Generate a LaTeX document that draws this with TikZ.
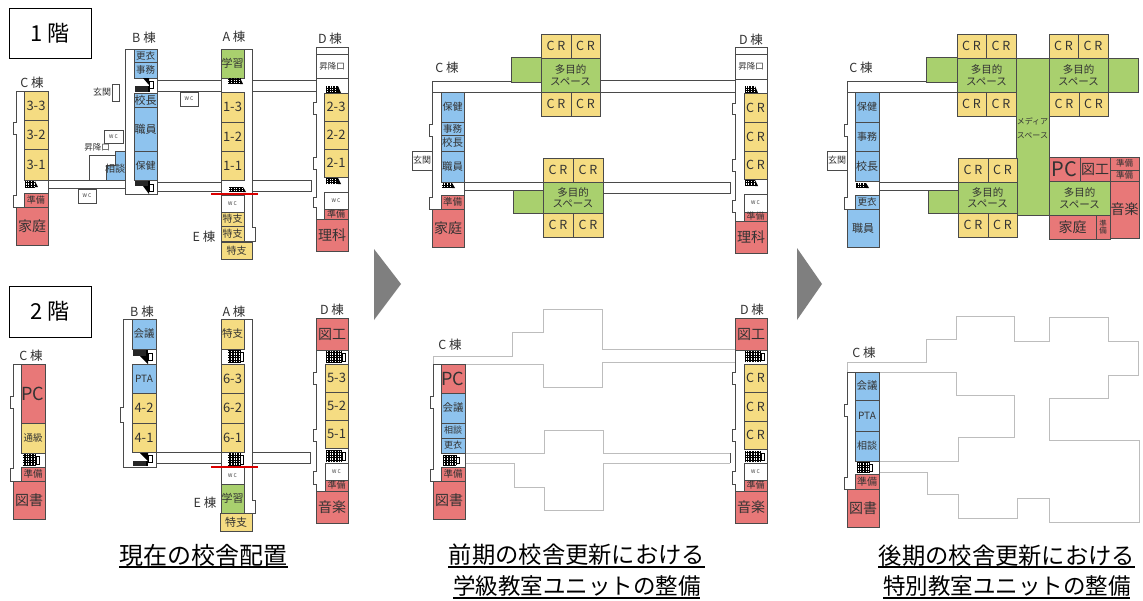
\documentclass[tikz,border=0pt]{standalone}
\usepackage{fontspec}
\setmainfont{Noto Sans CJK JP}
\definecolor{yel}{HTML}{F5DC82}
\definecolor{blu}{HTML}{8EC3EE}
\definecolor{grn}{HTML}{A9D06E}
\definecolor{red1}{HTML}{E87878}
\definecolor{wallc}{HTML}{4A4A4A}
\definecolor{txtc}{HTML}{333333}
\definecolor{ghost}{HTML}{BDBDBD}
\definecolor{arrowc}{HTML}{7F7F7F}
\tikzset{
 wall/.style={draw=wallc,line width=0.9pt,fill=white,line join=miter},
 roomb/.style={draw=wallc,line width=0.9pt},
 ghostl/.style={draw=ghost,line width=0.8pt},
 cutline/.style={draw=red!85!black,line width=2pt},
 uline/.style={draw=black,line width=1.2pt},
 captext/.style={font=\fontsize{22.5}{24}\selectfont,text=black,inner sep=0pt},
 captextA/.style={font=\fontsize{23.3}{24}\selectfont,text=black,inner sep=0pt},
 captextB/.style={font=\fontsize{24}{24}\selectfont,text=black,inner sep=0pt},
 bld/.style={font=\fontsize{12.5}{14}\selectfont,text=txtc,inner sep=0pt},
 bigarrow/.style={fill=arrowc,draw=none},
}
\newcommand\Rm[7]{\path[roomb,fill=#5] (#1,#2) rectangle (#3,#4) node[midway,inner sep=0pt,text=txtc,font=\fontsize{#6}{#6}\selectfont,align=center] {#7};}
\newcommand\Sh[4]{\path[wall] (#1,#2) rectangle (#3,#4);}
\newcommand\Bld[3]{\node[bld] at (#1,#2) {#3};}
\newcommand\Bmp[3]{\path[wall] (#1,#2) -- ({#1-2.5},#2) -- ({#1-2.5},#3) -- (#1,#3); \fill[white] ({#1-0.6},{#2+0.5}) rectangle ({#1+0.6},{#3-0.5});}
% stair: grid block with landing triangle
\newcommand\StT[4]{\draw[black,line width=0.5pt,xstep=1.6pt,ystep=2.2pt] (#1,#2) grid (#3,#4); \fill[black] (#3,#2) -- ({#3+3},#4) -- (#3,#4) -- cycle;}
\newcommand\StG[4]{\draw[black,line width=0.5pt,xstep=1.6pt,ystep=2.5pt] (#1,#2) grid (#3,#4); \draw[black,line width=0.5pt] (#3,{#2+2}) rectangle ({#3+3.5},{#4-2});}
\newcommand\StB[4]{\fill[black!85] (#1,#2) rectangle (#3,#4); \fill[black] (#3,#2) -- ({#3+2},#2) -- ({#3+2},#4) -- (#3,#4) -- cycle;}
\begin{document}
\begin{tikzpicture}[x=1pt,y=-1pt]
\useasboundingbox (0,0) rectangle (1143,600);
\fill[white] (0,0) rectangle (1143,600);
% ===== floor boxes
\node[draw=black,line width=0.9pt,minimum width=82pt,minimum height=50pt,inner sep=0pt,font=\fontsize{22}{24}\selectfont] (f1) at (50,33) {\raisebox{-2.5pt}{1 階}};
\node[draw=black,line width=0.9pt,minimum width=82pt,minimum height=51pt,inner sep=0pt,font=\fontsize{22}{24}\selectfont] (f2) at (50,311.5) {\raisebox{-3pt}{2 階}};
% ===== arrows
\fill[bigarrow] (374,249) -- (401,284) -- (374,320) -- cycle;
\fill[bigarrow] (797,248) -- (822,284) -- (797,320) -- cycle;

% ===== PANEL 1 / FLOOR 1
\Sh{157}{80}{221}{91}\Sh{252}{80}{316}{91}
\Sh{48}{180}{125}{188}\Sh{157}{182}{221}{191}\Sh{252}{180}{311}{191}
% C
\Sh{16}{91}{48}{207}\Bmp{16}{122}{134}\Bmp{16}{195}{207}
\Rm{24}{91}{48}{120}{yel}{13}{3-3}\Rm{24}{120}{48}{149}{yel}{13}{3-2}\Rm{24}{149}{48}{180}{yel}{13}{3-1}
\StT{25}{181}{35}{187}
\Rm{24}{193}{48}{207}{red1}{9}{準備}\Rm{16}{207}{48}{245}{red1}{14}{家庭}
% B
\Sh{125}{49}{157}{194}
\Rm{134}{49}{157}{62}{blu}{9.5}{更衣}\Rm{134}{62}{157}{78}{blu}{9.5}{事務}
\StB{135}{86}{148}{92}\fill[black] (143,78)--(149,78)--(149,85)--cycle;\draw[black,line width=.5pt] (149,81) rectangle (153,88);
\Rm{134}{93}{157}{107}{blu}{11}{校長}\Rm{134}{107}{157}{151}{blu}{11}{職員}\Rm{134}{151}{157}{180}{blu}{10}{保健}
\StB{135}{181}{148}{186}\fill[black] (143,186)--(149,186)--(149,194)--cycle;\draw[black,line width=.5pt] (149,184) rectangle (153,191);
% entrance and annex
\Sh{112}{84}{119}{101}\node[inner sep=0pt,font=\fontsize{9}{9}\selectfont,text=txtc] at (102,92) {玄関};
\Sh{89}{155}{125}{180}
\path[roomb,fill=blu] (106,180)--(106,165)--(115,165)--(115,151)--(125,151)--(125,180)--cycle;
\node[inner sep=0pt,font=\fontsize{10}{10}\selectfont,text=txtc] at (115,169) {相談};
\node[inner sep=0pt,font=\fontsize{8.5}{9}\selectfont,text=txtc] at (97,147) {昇降口};
\Rm{104}{130}{123}{143}{white}{5}{W C}
\Rm{78}{189}{96}{203}{white}{5}{W C}
\Rm{180}{92}{198}{106}{white}{5}{W C}
% A
\Sh{221}{49}{252}{241}
\path[wall] (252,227)--(255,227)--(255,241)--(252,241);
\Rm{221}{49}{244}{78}{grn}{11}{学習}
\StT{228}{78}{240}{84}
\Rm{221}{92}{244}{122}{yel}{13}{1-3}\Rm{221}{122}{244}{151}{yel}{13}{1-2}\Rm{221}{151}{244}{180}{yel}{13}{1-1}
\StT{229}{187}{243}{192}
\Rm{221}{195}{244}{212}{white}{5}{W C}
\Rm{221}{212}{244}{226}{yel}{10}{特支}\Rm{221}{226}{244}{241}{yel}{10}{特支}\Rm{221}{242}{252}{259}{yel}{10}{特支}
\draw[cutline] (211,194) -- (258,194);
% D
\Sh{316}{47}{348}{219}\Bmp{316}{102}{114}\Bmp{316}{157}{169}\Bmp{316}{197}{207}
\Rm{316}{54}{348}{78}{white}{8.5}{昇降口}
\StT{326}{86}{338}{93}
\Rm{324}{93}{348}{121}{yel}{13}{2-3}\Rm{324}{121}{348}{149}{yel}{13}{2-2}\Rm{324}{149}{348}{177}{yel}{13}{2-1}
\StT{326}{178}{338}{184}
\Rm{324}{192}{348}{209}{white}{5}{W C}
\Rm{324}{209}{348}{219}{red1}{9}{準備}\Rm{316}{219}{348}{251}{red1}{14}{理科}
\draw[wallc,line width=.9pt] (311,180)--(311,191);
\Bld{32}{83}{C 棟}\Bld{144}{38}{B 棟}\Bld{234}{37}{A 棟}\Bld{330}{39}{D 棟}\Bld{204}{237}{E 棟}

% ===== PANEL 1 / FLOOR 2
\Sh{156}{452}{221}{463}\Sh{252}{452}{310}{463}
% C
\Sh{13}{364}{45}{481}\Bmp{13}{396}{408}\Bmp{13}{468}{481}
\Rm{21}{364}{45}{423}{red1}{18}{PC}\Rm{21}{423}{45}{453}{yel}{9.5}{通級}
\StG{23}{454}{36}{466}
\Rm{21}{467}{45}{481}{red1}{9.5}{準備}\Rm{13}{481}{45}{519}{red1}{14}{図書}
% B
\Sh{123}{319}{156}{467}\Bmp{123}{407}{422}
\Rm{132}{319}{156}{349}{blu}{10.5}{会議}
\StB{133}{350}{146}{356}\fill[black] (140,356)--(148,356)--(148,364)--cycle;\draw[black,line width=.5pt] (148,353) rectangle (152,360);
\Rm{132}{364}{156}{393}{blu}{10}{PTA}\Rm{132}{393}{156}{423}{yel}{13}{4-2}\Rm{132}{423}{156}{452}{yel}{13}{4-1}
\StB{133}{461}{146}{466}\fill[black] (140,453)--(148,453)--(148,461)--cycle;\draw[black,line width=.5pt] (148,455) rectangle (152,462);
% A
\Sh{221}{319}{252}{513}\path[wall] (252,500)--(255,500)--(255,513)--(252,513);
\Rm{221}{319}{244}{349}{yel}{10.5}{特支}
\StG{228}{350}{240}{363}
\Rm{221}{364}{244}{393}{yel}{13}{6-3}\Rm{221}{393}{244}{423}{yel}{13}{6-2}\Rm{221}{423}{244}{452}{yel}{13}{6-1}
\StG{228}{453}{240}{466}
\Rm{221}{467}{244}{484}{white}{5}{W C}
\Rm{221}{484}{244}{513}{grn}{11}{学習}\Rm{220}{513}{252}{531}{yel}{11}{特支}
\draw[cutline] (211,467) -- (258,467);
% D
\Sh{316}{350}{348}{491}\Bmp{316}{372}{384}\Bmp{316}{429}{441}\Bmp{316}{471}{484}
\Rm{316}{318}{348}{350}{red1}{14}{図工}
\StG{326}{351}{342}{363}
\Rm{325}{364}{348}{392}{yel}{13}{5-3}\Rm{325}{392}{348}{420}{yel}{13}{5-2}\Rm{325}{420}{348}{448}{yel}{13}{5-1}
\StG{326}{450}{342}{462}
\Rm{325}{463}{348}{480}{white}{5}{W C}
\Rm{325}{480}{348}{491}{red1}{9}{準備}\Rm{316}{491}{348}{523}{red1}{14}{音楽}
\draw[wallc,line width=.9pt] (310,452)--(310,463);
\Bld{31}{356}{C 棟}\Bld{142}{312}{B 棟}\Bld{234}{312}{A 棟}\Bld{332}{310}{D 棟}\Bld{205}{503}{E 棟}
\node[captextB] (cap1) at (203.5,555) {現在の校舎配置};
\draw[uline] (119,567) -- (288,567);

% ===== PANEL 2 / FLOOR 1
\Sh{432}{81}{541}{92}\Sh{600}{80}{735}{92}
\Sh{464}{182}{543}{190}\Sh{603}{182}{730}{193}
% C
\Sh{432}{92}{464}{209}\Bmp{432}{124}{136}\Bmp{432}{197}{209}
\Rm{412}{151}{432}{170}{white}{9}{玄関}
\Rm{441}{92}{464}{122}{blu}{10}{保健}\Rm{441}{122}{464}{135}{blu}{9.5}{事務}\Rm{441}{135}{464}{151}{blu}{10.5}{校長}\Rm{441}{151}{464}{182}{blu}{10.5}{職員}
\StT{442}{183}{452}{188}
\Rm{441}{195}{464}{209}{red1}{9.5}{準備}\Rm{432}{209}{464}{247}{red1}{14}{家庭}
% units
\path[roomb,fill=grn] (511,57) rectangle (541,82);
\Rm{541}{58}{600}{92}{grn}{10.5}{多目的\\[1pt]スペース}
\Rm{541}{34}{571}{58}{yel}{12.5}{C R}\Rm{571}{34}{600}{58}{yel}{12.5}{C R}\Rm{541}{92}{571}{116}{yel}{12.5}{C R}\Rm{571}{92}{600}{116}{yel}{12.5}{C R}
\path[roomb,fill=grn] (513,190) rectangle (543,213);
\Rm{543}{182}{603}{213}{grn}{10.5}{多目的\\[1pt]スペース}
\Rm{543}{158}{573}{182}{yel}{12.5}{C R}\Rm{573}{158}{603}{182}{yel}{12.5}{C R}\Rm{543}{213}{573}{237}{yel}{12.5}{C R}\Rm{573}{213}{603}{237}{yel}{12.5}{C R}
% D
\Sh{735}{47}{767}{221}\Bmp{735}{103}{114}\Bmp{735}{159}{171}\Bmp{735}{200}{212}
\Rm{735}{54}{767}{79}{white}{8.5}{昇降口}
\StT{745}{86}{755}{93}
\Rm{744}{93}{767}{122}{yel}{12.5}{C R}\Rm{744}{122}{767}{151}{yel}{12.5}{C R}\Rm{744}{151}{767}{179}{yel}{12.5}{C R}
\StT{745}{180}{755}{186}
\Rm{744}{194}{767}{212}{white}{5}{W C}
\Rm{744}{212}{767}{221}{red1}{9}{準備}\Rm{735}{221}{767}{253}{red1}{14}{理科}
\draw[wallc,line width=.9pt] (730,182)--(730,193);
\Bld{447}{68}{C 棟}\Bld{751}{40}{D 棟}

% ===== PANEL 2 / FLOOR 2
\draw[ghostl] (433,364)--(433,356)--(512,356)--(512,332)--(543,332)--(543,309)--(602,309)--(602,349)--(735,349);
\draw[ghostl] (465,364)--(543,364)--(543,387)--(602,387)--(602,362)--(735,362);
\draw[ghostl] (465,453)--(544,453)--(544,430)--(603,430)--(603,453)--(730,453);
\draw[ghostl] (465,463)--(514,463)--(514,487)--(544,487)--(544,510)--(603,510)--(603,463)--(730,463);
% C
\Sh{433}{364}{465}{481}\Bmp{433}{396}{408}\Bmp{433}{469}{481}
\Rm{441}{364}{465}{393}{red1}{18}{PC}\Rm{441}{393}{465}{423}{blu}{10.5}{会議}\Rm{441}{423}{465}{438}{blu}{9}{相談}\Rm{441}{438}{465}{453}{blu}{9}{更衣}
\StG{443}{455}{456}{465}
\Rm{441}{467}{465}{481}{red1}{9.5}{準備}\Rm{433}{481}{465}{519}{red1}{14}{図書}
% D
\Sh{735}{350}{767}{491}\Bmp{735}{372}{384}\Bmp{735}{429}{441}\Bmp{735}{471}{484}
\Rm{735}{318}{767}{350}{red1}{14}{図工}
\StG{745}{351}{761}{362}
\Rm{744}{364}{767}{392}{yel}{12.5}{C R}\Rm{744}{392}{767}{421}{yel}{12.5}{C R}\Rm{744}{421}{767}{449}{yel}{12.5}{C R}
\StG{745}{451}{761}{462}
\Rm{744}{463}{767}{480}{white}{5}{W C}
\Rm{744}{480}{767}{491}{red1}{9}{準備}\Rm{735}{491}{767}{523}{red1}{14}{音楽}
\draw[wallc,line width=.9pt] (730,453)--(730,463);
\Bld{450}{345}{C 棟}\Bld{752}{310}{D 棟}
\node[captextA] (cap2a) at (577,555) {前期の校舎更新における};
\draw[uline] (448,567) -- (705,567);
\node[captext] (cap2b) at (577,586) {学級教室ユニットの整備};
\draw[uline] (453,598) -- (700,598);

% ===== PANEL 3 / FLOOR 1
\Sh{847}{81}{957}{92}
\Sh{879}{182}{958}{190}
% C
\Sh{847}{92}{879}{209}\Bmp{847}{124}{136}\Bmp{847}{197}{209}
\Rm{827}{151}{847}{170}{white}{9}{玄関}
\Rm{855}{92}{879}{122}{blu}{10}{保健}\Rm{855}{122}{879}{151}{blu}{10}{事務}\Rm{855}{151}{879}{181}{blu}{11}{校長}
\StT{856}{183}{866}{188}
\Rm{855}{195}{879}{209}{blu}{9.5}{更衣}\Rm{847}{209}{879}{247}{blu}{11}{職員}
% green
\path[roomb,fill=grn] (926,57) rectangle (957,82);
\Rm{957}{58}{1016}{92}{grn}{10.5}{多目的\\[1pt]スペース}
\Rm{957}{34}{986}{58}{yel}{12.5}{C R}\Rm{986}{34}{1016}{58}{yel}{12.5}{C R}\Rm{957}{92}{986}{116}{yel}{12.5}{C R}\Rm{986}{92}{1016}{116}{yel}{12.5}{C R}
\Rm{1016}{58}{1049}{215}{grn}{8}{\raisebox{17pt}{\shortstack{メディア\\[4pt]スペース}}}
\Rm{1049}{58}{1108}{92}{grn}{10.5}{多目的\\[1pt]スペース}
\path[roomb,fill=grn] (1108,58) rectangle (1138,92);
\Rm{1049}{34}{1078}{58}{yel}{12.5}{C R}\Rm{1078}{34}{1108}{58}{yel}{12.5}{C R}\Rm{1049}{92}{1079}{116}{yel}{12.5}{C R}\Rm{1079}{92}{1108}{116}{yel}{12.5}{C R}
\path[roomb,fill=grn] (928,190) rectangle (958,213);
\Rm{958}{182}{1017}{213}{grn}{10.5}{多目的\\[1pt]スペース}
\Rm{958}{158}{988}{182}{yel}{12.5}{C R}\Rm{988}{158}{1017}{182}{yel}{12.5}{C R}\Rm{958}{213}{988}{237}{yel}{12.5}{C R}\Rm{988}{213}{1017}{237}{yel}{12.5}{C R}
\Rm{1049}{157}{1080}{181}{red1}{20}{PC}\Rm{1080}{157}{1110}{181}{red1}{14}{図工}
\Rm{1110}{157}{1139}{170}{red1}{8.5}{準備}\Rm{1110}{170}{1139}{181}{red1}{8.5}{準備}
\Rm{1049}{181}{1110}{215}{grn}{10.5}{多目的\\[1pt]スペース}
\Rm{1110}{181}{1139}{238}{red1}{14}{音楽}
\Rm{1049}{215}{1096}{239}{red1}{14}{家庭}
\Rm{1096}{215}{1110}{239}{red1}{7.5}{準\\備}
\Bld{861}{68}{C 棟}

% ===== PANEL 3 / FLOOR 2
\draw[ghostl] (847,372)--(847,362)--(926,362)--(926,339)--(956,339)--(956,316)--(1014,316)--(1014,341)--(1049,341)--(1049,317)--(1108,317)--(1108,341)--(1138,341)--(1138,375)--(1108,375)--(1108,398)--(1049,398)--(1049,440)--(1139,440)--(1139,522)--(1049,522)--(1049,498)--(1017,498)--(1017,518)--(958,518)--(958,494)--(927,494)--(927,472)--(879,472);
\draw[ghostl] (879,372)--(956,372)--(956,395)--(1014,395)--(1014,437)--(958,437)--(958,461)--(879,461);
% C
\Sh{847}{372}{879}{489}\Bmp{847}{404}{416}\Bmp{847}{477}{489}
\Rm{855}{372}{879}{400}{blu}{10.5}{会議}\Rm{855}{400}{879}{431}{blu}{10}{PTA}\Rm{855}{431}{879}{461}{blu}{10}{相談}
\StG{857}{462}{869}{473}
\Rm{855}{474}{879}{489}{red1}{10}{準備}\Rm{847}{489}{879}{527}{red1}{14}{図書}
\Bld{864}{353}{C 棟}
\node[captextA] (cap3a) at (1007,556) {後期の校舎更新における};
\draw[uline] (878,567) -- (1135,567);
\node[captext] (cap3b) at (1007,586) {特別教室ユニットの整備};
\draw[uline] (883,598) -- (1130,598);
\end{tikzpicture}
\end{document}
